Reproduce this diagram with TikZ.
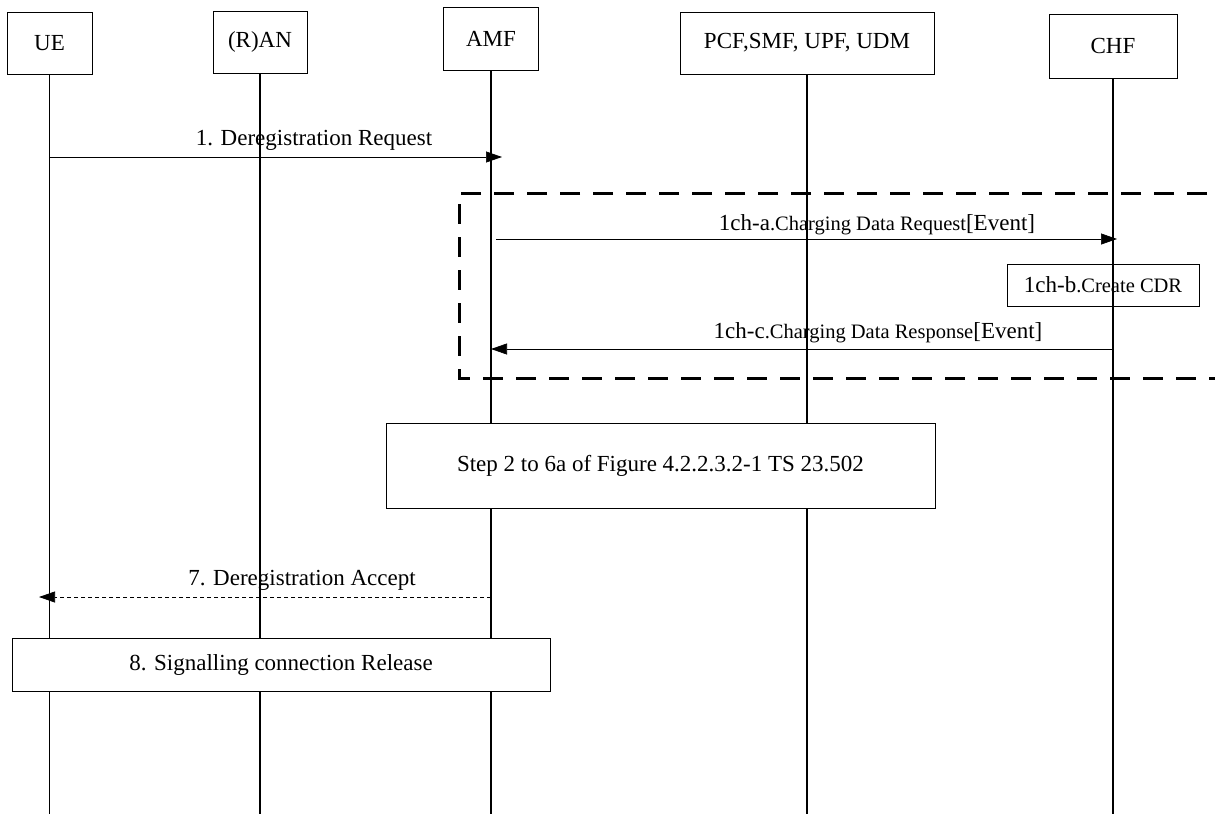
\documentclass[tikz,border=0pt]{standalone}
\usepackage{fontspec}
\setmainfont{Liberation Serif}
\usetikzlibrary{arrows.meta}
\newcommand{\bigf}{\fontsize{23}{27}\selectfont}
\newcommand{\smallf}{\fontsize{20.5}{24}\selectfont}
\begin{document}
\begin{tikzpicture}[x=1pt,y=-1pt,
  hdr/.style={draw=black, line width=0.8pt, inner sep=0pt, font=\bigf},
  life/.style={draw=black, line width=1.3pt},
  msg/.style={draw=black, line width=0.7pt, -{Triangle[length=16pt,width=11pt]}},
  dmsg/.style={msg, dash pattern=on 4pt off 3pt},
  lbl/.style={anchor=base, inner sep=0pt, font=\bigf},
  stepbox/.style={draw=black, line width=0.8pt, fill=white, inner sep=0pt, font=\bigf},
  grp/.style={draw=black, line width=3pt, dash pattern=on 20pt off 13pt}
]
\useasboundingbox (0,0) rectangle (1215,814);
\fill[white] (0,0) rectangle (1215,814);

% headers
\node[hdr, minimum width=85pt, minimum height=62pt] (ue) at (49.5,43.5) {UE};
\node[hdr, minimum width=94pt, minimum height=62pt] (ran) at (260,42) {(R)AN};
\node[hdr, minimum width=95pt, minimum height=63pt] (amf) at (491,38.5) {AMF};
\node[hdr, minimum width=254pt, minimum height=62pt] (pcf) at (807,43) {PCF,SMF, UPF, UDM};
\node[hdr, minimum width=128pt, minimum height=64pt] (chf) at (1113,46) {CHF};

% lifeline ends
\coordinate (bot) at (0,814);
\draw[life] (ue.south) -- (ue.south|-bot);
\draw[life] (ran.south) -- (ran.south|-bot);
\draw[life] (amf.south) -- (amf.south|-bot);
\draw[life] (pcf.south) -- (pcf.south|-bot);
\draw[life] (chf.south) -- (chf.south|-bot);

% message end points
\coordinate (m1s) at (49,157);
\coordinate (m1e) at (491,157);
\coordinate (mas) at (496,239);
\coordinate (mae) at (1113,239);
\coordinate (mcs) at (1113,349);
\coordinate (mce) at (491,349);
\coordinate (m7s) at (491,597);
\coordinate (m7e) at (49,597);

% message 1
\draw[msg, shorten >=-11pt] (m1s) -- (m1e);
\node[lbl] (l1) at (314,145) {1. Deregistration Request};

% dashed group
\draw[grp] (1240,193) -- (459,193) -- (459,378) -- (1240,378);

% 1ch-a
\draw[msg, shorten >=-4pt] (mas) -- (mae);
\node[lbl] (l1a) at (877,230) {1ch-a{\smallf.Charging Data Request}[Event]};

% 1ch-b
\node[hdr, minimum width=192pt, minimum height=42pt] (cdr) at (1103,285) {1ch-b{\smallf.Create CDR}};

% 1ch-c
\draw[msg] (mcs) -- (mce);
\node[lbl] (l1c) at (878,338) {1ch-c{\smallf.Charging Data Response}[Event]};

% step box
\node[stepbox, minimum width=549pt, minimum height=85pt] (step) at (660.5,465.5) {Step 2 to 6a of Figure 4.2.2.3.2-1 TS 23.502};

% message 7
\draw[dmsg, shorten >=-10pt] (m7s) -- (m7e);
\node[lbl] (l7) at (302,585) {7. Deregistration Accept};

% box 8
\node[stepbox, minimum width=538pt, minimum height=53pt] (rel) at (281,664.5) {8. Signalling connection Release};
\end{tikzpicture}
\end{document}
